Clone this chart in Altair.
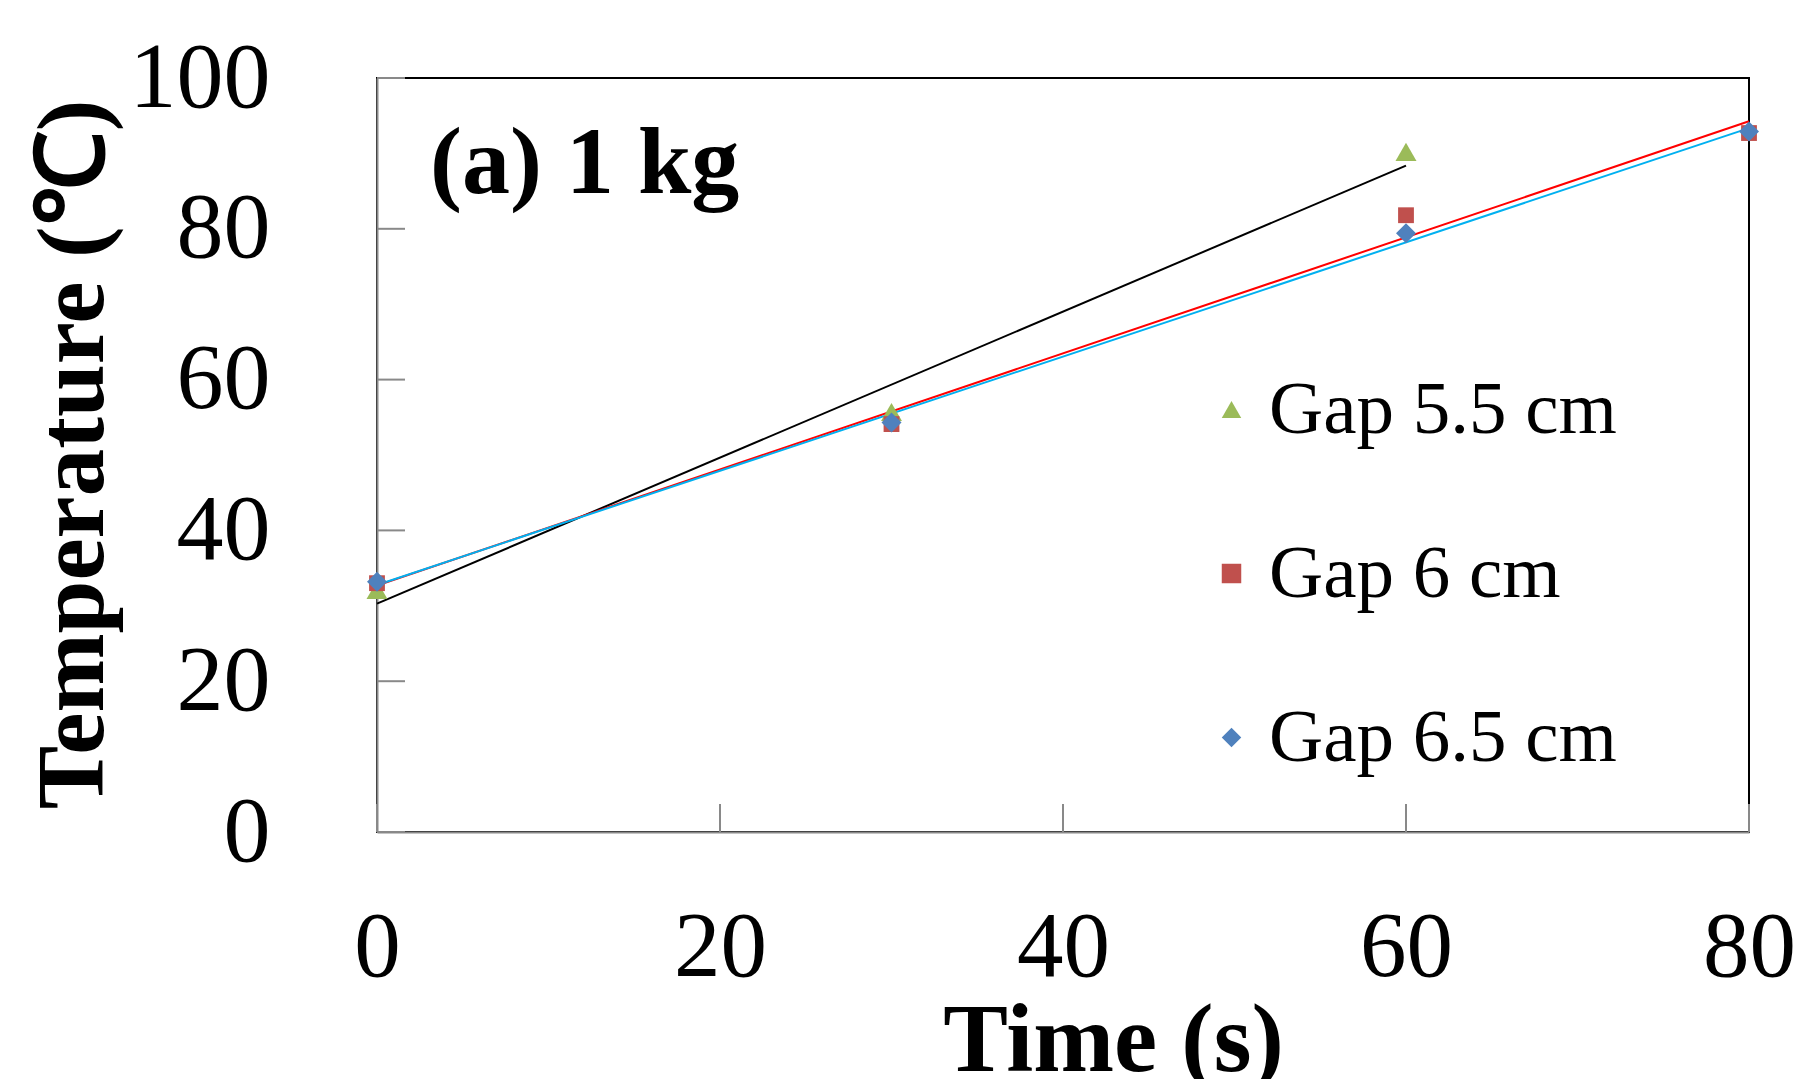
import altair as alt
import pandas as pd

series_names = ["Gap 5.5 cm", "Gap 6 cm", "Gap 6.5 cm"]
time_gap55 = [0, 30, 60]
temp_gap55 = [32.1, 55.7, 90.2]
time_gap6 = [0, 30, 60, 80]
temp_gap6 = [33.0, 54.1, 81.8, 92.7]
time_gap65 = [0, 30, 60, 80]
temp_gap65 = [33.2, 54.3, 79.4, 92.9]
x_ticks = [0, 20, 40, 60, 80]
y_ticks = [0, 20, 40, 60, 80, 100]
marker_colors = ["#9BBB59", "#C0504D", "#4F81BD"]
marker_shapes = ["triangle-up", "square", "diamond"]
marker_sizes = [440, 250, 400]
trend_colors = ["#000000", "#FF0000", "#00B0F0"]
panel_label = "(a) 1 kg"
x_title = "Time (s)"
y_title = "Temperature (℃)"

rows = []
for name, ts, vs in zip(series_names,
                        [time_gap55, time_gap6, time_gap65],
                        [temp_gap55, temp_gap6, temp_gap65]):
    for t, v in zip(ts, vs):
        rows.append({"series": name, "time": t, "temp": v})
df = pd.DataFrame(rows)

W, H = 1372, 754
GRAY = "#898989"
FONT = "Liberation Serif"

x_scale = alt.Scale(domain=[0, 80], nice=False, zero=False)
y_scale = alt.Scale(domain=[0, 100], nice=False)

x_axis = alt.Axis(
    title=x_title, values=x_ticks, ticks=False, tickSize=0, grid=False,
    domainColor=GRAY, domainWidth=2,
    labelFont=FONT, labelFontSize=93, labelColor="black", labelPadding=70,
    labelFlush=False, labelOverlap=False,
    titleFont=FONT, titleFontSize=97, titleFontWeight="bold", titleColor="black",
    titleX=736, titleY=238, titleBaseline="alphabetic", titleAlign="center", titleAngle=0,
)
y_axis = alt.Axis(
    title=y_title, values=y_ticks, ticks=False, tickSize=0, grid=False,
    domainColor=GRAY, domainWidth=2,
    labelFont=FONT, labelFontSize=94, labelColor="black", labelPadding=107,
    labelFlush=False, labelOverlap=False,
    titleFont=FONT, titleFontSize=95, titleFontWeight="bold", titleColor="black",
    titleX=-275, titleY=376, titleBaseline="alphabetic", titleAlign="center", titleAngle=270,
)

legend = alt.Legend(
    title=None, orient="none", legendX=817, legendY=294,
    labelFont=FONT, labelFontSize=75, labelColor="black", labelOffset=0,
    labelLimit=0, rowPadding=88, symbolSize=380,
)

color_enc = alt.Color("series:N", scale=alt.Scale(domain=series_names, range=marker_colors), legend=legend)
shape_enc = alt.Shape("series:N", scale=alt.Scale(domain=series_names, range=marker_shapes), legend=legend)

base = alt.Chart(df)

layers = []
for name, col in zip(series_names, trend_colors):
    layers.append(
        base.transform_filter(alt.datum.series == name)
        .transform_regression("time", "temp")
        .mark_line(strokeWidth=2, color=col)
        .encode(
            x=alt.X("time:Q", scale=x_scale, axis=x_axis),
            y=alt.Y("temp:Q", scale=y_scale, axis=y_axis),
        )
    )

ytick_df = pd.DataFrame({"temp": y_ticks})
xtick_df = pd.DataFrame({"time": x_ticks})

layers.append(alt.Chart(ytick_df).mark_rule(color=GRAY, strokeWidth=2).encode(
    y=alt.Y("temp:Q", scale=y_scale, axis=y_axis),
    x=alt.value(0), x2=alt.value(28),
))
layers.append(alt.Chart(xtick_df).mark_rule(color=GRAY, strokeWidth=2).encode(
    x=alt.X("time:Q", scale=x_scale, axis=x_axis),
    y=alt.value(H), y2=alt.value(H - 28),
))

for name, sz in zip(series_names, marker_sizes):
    layers.append(
        base.transform_filter(alt.datum.series == name)
        .mark_point(filled=True, opacity=1, size=sz)
        .encode(
            x=alt.X("time:Q", scale=x_scale, axis=x_axis),
            y=alt.Y("temp:Q", scale=y_scale, axis=y_axis),
            color=color_enc,
            shape=shape_enc,
        )
    )

layers.append(alt.Chart(pd.DataFrame({"t": [panel_label]})).mark_text(
    align="left", baseline="alphabetic", font=FONT, fontSize=96,
    fontWeight="bold", color="black",
).encode(text="t:N", x=alt.value(53), y=alt.value(115)))

chart = alt.layer(*layers).properties(
    width=W, height=H,
    autosize=alt.AutoSizeParams(type="none"),
    padding={"left": 369, "top": 70, "right": 44, "bottom": 247},
    background="white",
).configure_view(stroke="black", strokeWidth=2)

chart.save("out.html", embed_options={"renderer": "svg", "actions": False})
